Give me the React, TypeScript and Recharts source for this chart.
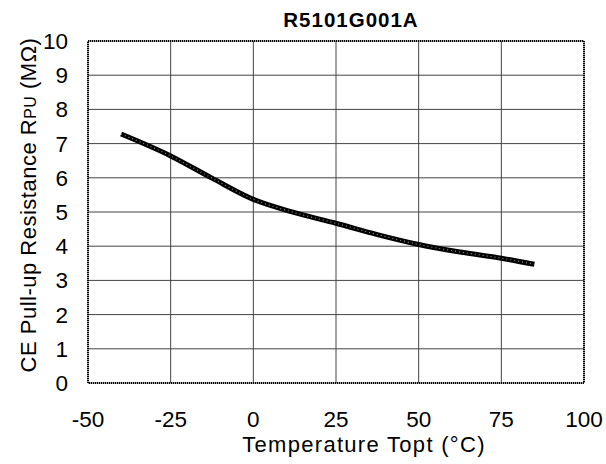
import React from 'react';
import { LineChart, Line, XAxis, YAxis, CartesianGrid, ReferenceArea } from 'recharts';

const temperatures = [-40, -25, -12.5, 0, 12.5, 25, 37.5, 50, 62.5, 75, 85];
const resistance = [7.28, 6.64, 5.99, 5.37, 4.98, 4.67, 4.34, 4.05, 3.83, 3.65, 3.47];
const xTicks = [-50, -25, 0, 25, 50, 75, 100];
const yTicks = [0, 1, 2, 3, 4, 5, 6, 7, 8, 9, 10];

const data = temperatures.map((t, i) => ({ t, r: resistance[i] }));

const font = '"Liberation Sans", Arial, sans-serif';

export default function App() {
    return (
        <div style={{ position: 'absolute', left: 0, top: 0, width: 606, height: 464, background: '#fff', fontFamily: font }}>
            <LineChart
                width={606}
                height={464}
                data={data}
                margin={{ top: 41, right: 22, left: 28, bottom: 41 }}
            >
                <CartesianGrid stroke="#444" strokeWidth={1} />
                <XAxis
                    dataKey="t"
                    type="number"
                    domain={[-50, 100]}
                    ticks={xTicks}
                    height={40}
                    axisLine={false}
                    tickLine={false}
                    tickSize={0}
                    tickMargin={28}
                    tick={{ fill: '#000', fontSize: 22.5, fontFamily: font }}
                />
                <YAxis
                    type="number"
                    domain={[0, 10]}
                    ticks={yTicks}
                    width={60}
                    axisLine={false}
                    tickLine={false}
                    tickSize={0}
                    tickMargin={20}
                    tick={{ fill: '#000', fontSize: 22.5, fontFamily: font }}
                />
                <ReferenceArea
                    x1={-50}
                    x2={100}
                    y1={0}
                    y2={10}
                    fill="none"
                    stroke="#000"
                    strokeWidth={2}
                    strokeDasharray="1 1"
                    fillOpacity={0}
                />
                <Line
                    dataKey="r"
                    type="monotone"
                    stroke="#000"
                    strokeWidth={5}
                    dot={false}
                    isAnimationActive={false}
                />
                <Line
                    dataKey="r"
                    type="monotone"
                    stroke="#fff"
                    strokeOpacity={0.55}
                    strokeWidth={1.2}
                    strokeDasharray="1 3"
                    dot={false}
                    isAnimationActive={false}
                />
            </LineChart>
            <svg width={606} height={464} style={{ position: 'absolute', left: 0, top: 0, pointerEvents: 'none' }}>
                <text x={351} y={27} textAnchor="middle" fontSize={20.5} fontWeight="bold" letterSpacing={1} fontFamily={font} fill="#000">
                    R5101G001A
                </text>
                <text x={364} y={452} textAnchor="middle" fontSize={22} letterSpacing={1.3} fontFamily={font} fill="#000">
                    Temperature Topt (°C)
                </text>
                <text
                    transform="translate(36, 205) rotate(-90)"
                    textAnchor="middle"
                    fontSize={22}
                    letterSpacing={0.5}
                    fontFamily={font}
                    fill="#000"
                >
                    CE Pull-up Resistance R<tspan fontSize={16}>PU</tspan> (MΩ)
                </text>
            </svg>
        </div>
    );
}
